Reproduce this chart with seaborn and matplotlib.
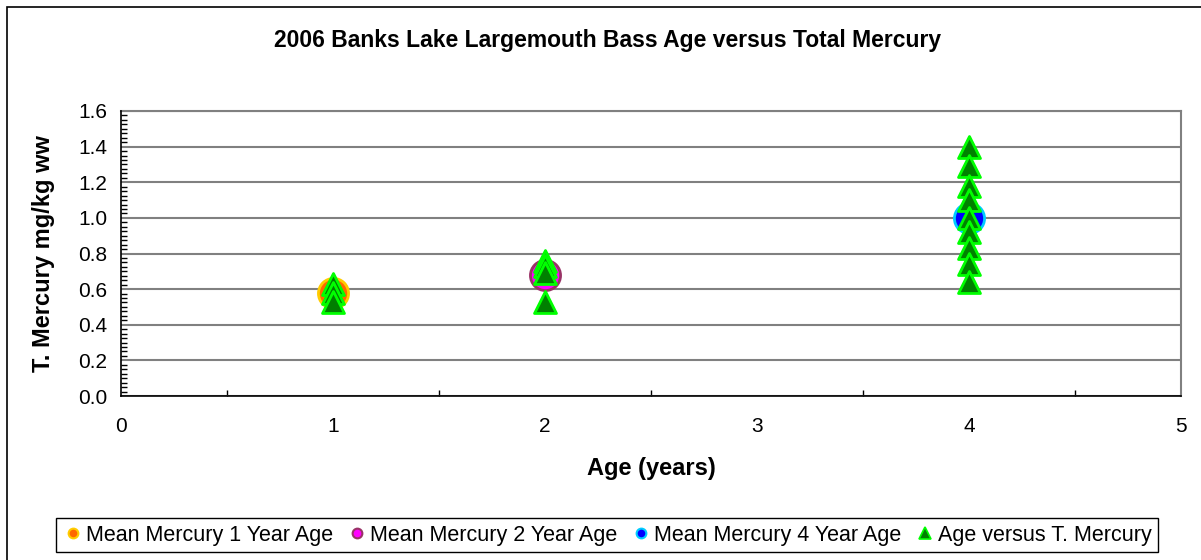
import numpy as np
import pandas as pd
import matplotlib.pyplot as plt
import seaborn as sns
from matplotlib.lines import Line2D
from matplotlib.patches import Rectangle
from matplotlib.ticker import MultipleLocator, FormatStrFormatter

# data
age_1 = [1, 1, 1]
hg_1 = [0.63, 0.58, 0.53]
age_2 = [2, 2, 2, 2]
hg_2 = [0.76, 0.73, 0.69, 0.53]
age_4 = [4, 4, 4, 4, 4, 4, 4, 4, 4]
hg_4 = [1.40, 1.29, 1.18, 1.10, 1.00, 0.92, 0.83, 0.74, 0.64]

mean_ages = [1, 2, 4]
mean_hg = [0.58, 0.68, 1.00]
mean_labels = ["Mean Mercury 1 Year Age", "Mean Mercury 2 Year Age", "Mean Mercury 4 Year Age"]
mean_fill = ["#FF6600", "#FF00FF", "#0000FF"]
mean_edge = ["#FFCC00", "#993366", "#00CCFF"]

fish = pd.DataFrame({"age": age_1 + age_2 + age_4, "hg": hg_1 + hg_2 + hg_4})

sns.set_style("white")
plt.rcParams["font.family"] = ["Liberation Sans", "DejaVu Sans"]
plt.rcParams["text.color"] = "black"
plt.rcParams["axes.labelcolor"] = "black"
plt.rcParams["xtick.color"] = "black"
plt.rcParams["ytick.color"] = "black"

fig = plt.figure(figsize=(12.01, 5.6), dpi=100)
ax = fig.add_axes([121 / 1201, 1 - 396 / 560, 1060 / 1201, 285 / 560])

# outer chart border (runs off the right and bottom edges like the original)
fig.patches.append(Rectangle((7 / 1201, -0.1), 1.2, 1.1 - 7 / 560, transform=fig.transFigure,
                             fill=False, edgecolor="black", linewidth=1.2))

for a, m, fc, ec in zip(mean_ages, mean_hg, mean_fill, mean_edge):
    sns.scatterplot(x=[a], y=[m], ax=ax, s=470, color=fc, edgecolor=ec, linewidth=2,
                    marker="o", zorder=3, legend=False)

sns.scatterplot(data=fish, x="age", y="hg", ax=ax, marker="^", s=250, color="#008000",
                edgecolor="#00FF00", linewidth=2, zorder=4, legend=False)

ax.set_xlim(0, 5)
ax.set_ylim(0, 1.6)
ax.xaxis.set_major_locator(MultipleLocator(1))
ax.xaxis.set_minor_locator(MultipleLocator(0.5))
ax.yaxis.set_major_locator(MultipleLocator(0.2))
ax.yaxis.set_minor_locator(MultipleLocator(0.025))
ax.yaxis.set_major_formatter(FormatStrFormatter("%.1f"))
ax.tick_params(which="major", direction="inout", length=8, width=1, color="black",
               labelsize=15, pad=6)
ax.tick_params(axis="x", which="major", pad=11)
ax.tick_params(which="minor", direction="in", length=4, width=1, color="black")
ax.tick_params(axis="x", which="minor", bottom=True)
ax.tick_params(axis="y", which="minor", left=True)

ax.grid(axis="y", which="major", color="#808080", linewidth=1.5)
ax.set_axisbelow(True)
for side in ["left", "bottom"]:
    ax.spines[side].set_color("black")
    ax.spines[side].set_linewidth(1.2)
    ax.spines[side].set_zorder(5)
for side in ["right", "top"]:
    ax.spines[side].set_color("#808080")
    ax.spines[side].set_linewidth(1.5)

ax.set_xlabel("Age (years)", fontsize=17, fontweight="bold")
ax.set_ylabel("T. Mercury mg/kg ww", fontsize=17, fontweight="bold")
ax.xaxis.set_label_coords(0.5, (396 - 468) / 285)
ax.yaxis.set_label_coords((44 - 121) / 1060, 0.5)
ax.xaxis.label.set_va("center")
ax.yaxis.label.set_va("center")
fig.text(608 / 1201, 1 - 40 / 560, "2006 Banks Lake Largemouth Bass Age versus Total Mercury",
         ha="center", va="center", fontsize=16.5, fontweight="bold")

handles = [Line2D([], [], linestyle="none", marker="o", markersize=7, markerfacecolor=fc,
                  markeredgecolor=ec, markeredgewidth=1.5) for fc, ec in zip(mean_fill, mean_edge)]
handles.append(Line2D([], [], linestyle="none", marker="^", markersize=8, markerfacecolor="#008000",
                      markeredgecolor="#00FF00", markeredgewidth=1.2))
labels = mean_labels + ["Age versus T. Mercury"]
leg = fig.legend(handles, labels, loc="center", bbox_to_anchor=(607 / 1201, 1 - 535 / 560), ncol=4,
                 fontsize=15.5, frameon=True, fancybox=False, edgecolor="black", framealpha=1,
                 handletextpad=0.1, columnspacing=0.6, handlelength=1.0, borderpad=0.3)
leg.get_frame().set_linewidth(1.0)

fig.savefig("out.png", dpi=100)
